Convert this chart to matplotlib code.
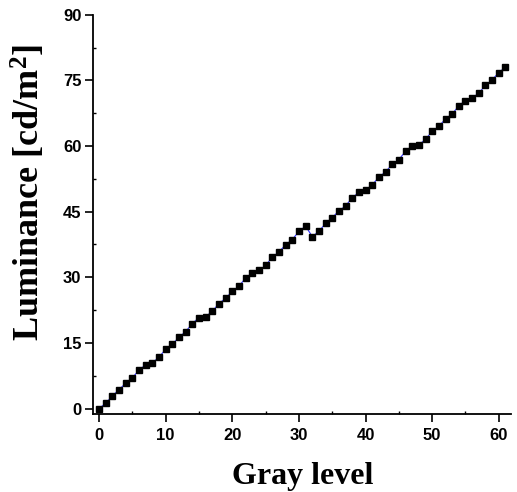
import matplotlib
matplotlib.use("Agg")
import matplotlib.pyplot as plt
from matplotlib.ticker import MultipleLocator

plt.rcParams["mathtext.fontset"] = "custom"
plt.rcParams["mathtext.rm"] = "Liberation Serif:bold"
plt.rcParams["mathtext.bf"] = "Liberation Serif:bold"
plt.rcParams["mathtext.it"] = "Liberation Serif:bold"

gray_level = list(range(62))
luminance = [0.0, 1.2, 2.9, 4.3, 5.8, 7.0, 8.8, 10.0, 10.5, 11.7,
             13.6, 14.7, 16.3, 17.6, 19.4, 20.8, 21.0, 22.2, 24.0, 25.2,
             26.8, 28.0, 29.8, 31.0, 31.6, 32.7, 34.6, 35.8, 37.4, 38.6,
             40.5, 41.7, 39.3, 40.5, 42.3, 43.6, 45.2, 46.3, 48.2, 49.4,
             49.9, 51.1, 52.9, 54.1, 55.8, 56.9, 58.8, 60.0, 60.3, 61.5,
             63.4, 64.5, 66.2, 67.3, 69.2, 70.4, 71.0, 72.1, 73.9, 75.1,
             76.8, 78.0]
x_ticks = [0, 10, 20, 30, 40, 50, 60]
y_ticks = [0, 15, 30, 45, 60, 75, 90]

fig = plt.figure(figsize=(5.17, 4.92), dpi=100)
ax = fig.add_axes([0.18, 0.159, 0.808, 0.811])

ax.plot(gray_level, luminance, color="#3030ff", lw=0.8, zorder=1)
ax.plot(gray_level, luminance, ls="none", marker="s", ms=5.0,
        mfc="black", mec="black", zorder=2)

ax.set_xlim(-0.9, 61.8)
ax.set_ylim(-1.2, 90)
ax.set_xticks(x_ticks)
ax.set_yticks(y_ticks)
ax.xaxis.set_minor_locator(MultipleLocator(5))
ax.yaxis.set_minor_locator(MultipleLocator(7.5))

for s in ["top", "right"]:
    ax.spines[s].set_visible(False)
for s in ["left", "bottom"]:
    ax.spines[s].set_linewidth(1.3)

ax.tick_params(which="major", direction="out", length=6, width=1.2,
               labelsize=12)
ax.tick_params(axis="x", which="major", pad=4)
ax.tick_params(axis="y", which="major", pad=2.5)
ax.tick_params(which="minor", direction="in", length=2.5, width=1.0)
for lab in ax.get_xticklabels() + ax.get_yticklabels():
    lab.set_fontfamily("Liberation Sans")
    lab.set_fontweight("bold")

ax.set_xlabel("Gray level", fontfamily="Liberation Serif", fontweight="bold",
              fontsize=23)
ax.xaxis.set_label_coords(0.503, -0.175, transform=ax.transAxes)
ax.xaxis.label.set_verticalalignment("baseline")
ax.set_ylabel("Luminance [cd/m$^{2}$]", fontfamily="Liberation Serif",
              fontweight="bold", fontsize=26)
ax.yaxis.set_label_coords(-0.155, 0.554, transform=ax.transAxes)
ax.yaxis.label.set_verticalalignment("center")

fig.savefig("out.png", dpi=100)
